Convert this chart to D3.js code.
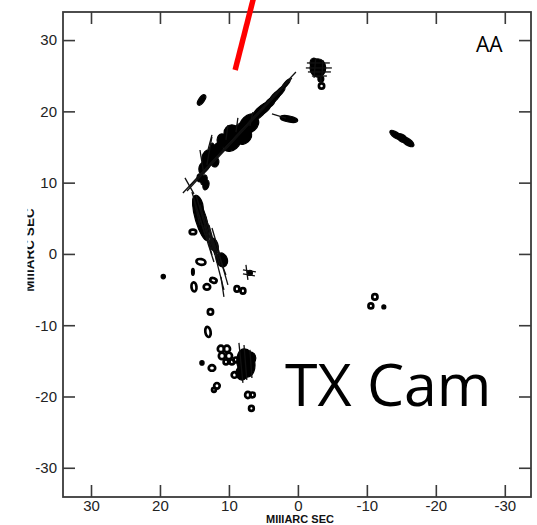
<!DOCTYPE html>
<html>
<head>
<meta charset="utf-8">
<script src="https://cdn.jsdelivr.net/npm/d3@7"></script>
<style>
  html, body { margin: 0; padding: 0; background: #fff; }
  svg { display: block; }
</style>
</head>
<body>
<svg id="chart" width="537" height="525"></svg>
<script>
// Tick values, milliarcseconds (RA offset increases to the left)
const xTicks = [30, 20, 10, 0, -10, -20, -30];
const yTicks = [30, 20, 10, 0, -10, -20, -30];

// Filled maser components: offset (mas), semi-major / semi-minor (mas), position angle (deg)
const blobX     = [8.41, 9.57, 5.51, 3.33, 1.74, 11.74, 13.33, 13.62, 12.61, 7.25, 10.43, 13.96,
                   -2.9, -2.32, -3.33, 1.3, -14.2, -15.94, -15.07,
                   14.06, 14.49, 13.77, 11.01, 12.17, 14.64,
                   7.54, 8.12, 6.96,
                   -12.46, 19.52, 13.91, 15.22, 6.96,
                   6.96, 9.57, 7.68, 4.78, 4.06, 2.61, 11.01, 13.04, 13.77, 12.03, 13.33, 14.2];
const blobY     = [16.97, 15.57, 19.92, 22.02, 23.84, 14.59, 12.48, 10.38, 14.59, 18.51, 15.99, 21.6,
                   26.09, 26.79, 24.54, 18.93, 16.69, 15.71, 16.27,
                   4.91, 6.87, 3.65, -0.84, 1.26, 7.29,
                   -15.29, -16.69, -14.59,
                   -7.43, -3.18, -15.29, -2.52, -2.66,
                   18.09, 16.97, 16.27, 20.48, 21.18, 22.72, 15.99, 13.46, 12.06, 12.9, 9.68, 10.66];
const blobMajor = [2.29, 1.43, 1.71, 1.29, 0.86, 1.14, 1.0, 0.71, 1.0, 1.43, 0.86, 0.86,
                   1.29, 0.7, 0.43, 1.29, 1.0, 1.0, 0.86,
                   3.14, 1.4, 0.86, 1.0, 1.0, 0.86,
                   2.0, 1.0, 0.86,
                   0.29, 0.31, 0.31, 0.49, 0.36,
                   1.43, 1.14, 1.14, 1.14, 1.0, 1.0, 0.86, 1.14, 0.86, 0.71, 0.71, 0.57];
const blobMinor = [1.14, 1.0, 0.6, 0.45, 0.26, 0.71, 0.57, 0.43, 0.26, 0.86, 0.86, 0.4,
                   1.14, 0.55, 0.43, 0.43, 0.42, 0.48, 0.5,
                   0.8, 0.7, 0.57, 0.78, 0.57, 0.5,
                   1.29, 0.86, 0.86,
                   0.29, 0.31, 0.31, 0.21, 0.36,
                   1.0, 1.14, 0.71, 0.55, 0.5, 0.38, 0.71, 0.86, 0.57, 0.57, 0.43, 0.43];
const blobPA    = [-50, -50, -45, -42, -42, -30, -25, -20, -15, -48, 0, -35,
                   0, 0, 0, 80, 57, 57, 57,
                   17, 15, 15, 20, 20, 20,
                   10, 0, 0,
                   0, 0, 0, 0, 0,
                   -50, 0, -50, -45, -45, -42, 0, -10, -15, -10, -15, 0];

// Contour rings: offset (mas), semi-axes (mas), position angle (deg)
const ringX     = [-3.43, -11.16, -10.58, 14.06, 15.07, 13.19, 12.25, 15.22, 8.84, 7.97, 12.68, 13.04, 11.16, 10.29, 11.01, 10.0, 10.43, 9.57, 8.99, 12.46, 9.2, 11.74, 12.17, 7.25, 6.59, 6.74];
const ringY     = [23.56, -6.03, -7.29, -1.12, -4.63, -4.63, -3.72, 3.09, -4.91, -5.19, -8.13, -10.94, -13.32, -13.32, -14.31, -14.31, -15.15, -15.15, -14.87, -15.99, -16.97, -18.51, -19.07, -19.78, -19.78, -21.67];
const ringMajor = [0.38, 0.38, 0.35, 0.66, 0.64, 0.47, 0.47, 0.47, 0.38, 0.38, 0.38, 0.72, 0.45, 0.45, 0.45, 0.45, 0.34, 0.34, 0.34, 0.47, 0.4, 0.4, 0.28, 0.44, 0.34, 0.34];
const ringMinor = [0.38, 0.38, 0.35, 0.4, 0.36, 0.38, 0.32, 0.32, 0.35, 0.35, 0.38, 0.38, 0.45, 0.45, 0.45, 0.45, 0.34, 0.34, 0.34, 0.4, 0.4, 0.4, 0.28, 0.4, 0.34, 0.34];
const ringPA    = [0, 0, 0, 80, 5, 90, 70, 90, 0, 0, 0, 10, 0, 0, 0, 0, 0, 0, 0, 90, 0, 0, 0, 0, 0, 0];

// Polarization vectors: centre (mas), length (mas), position angle (deg)
const vecX   = [8.48, 8.48, 8.84, 15.72, 9.13, 12.83, 14.42, 13.62, 13.12, 12.39, 11.74, 11.38, 10.87, 10.94, 12.17, 14.64,
                13.04, 12.46, 11.88, 13.26,
                12.75, 10.29, 8.84, 6.74, 13.91,
                -2.97, -3.04, -3.12, -3.12, -3.33, -2.46, -3.55, 2.75, 7.39, 7.03, 7.1, 8.26, 7.61, 6.81];
const vecY   = [17.04, 16.76, 16.62, 9.54, 16.34, 14.45, 5.68, 4.42, 3.37, 1.96, -1.19, -0.49, -1.89, -4.63, 1.47, 5.82,
                1.96, 1.96, 1.75, 2.17,
                15.64, 17.04, 18.09, 18.93, 12.83,
                26.79, 26.09, 25.53, 24.96, 24.4, 26.09, 26.0, 19.35, -2.59, -2.38, -2.95, -15.29, -15.22, -15.43];
const vecLen = [23.59, 21.97, 19.65, 2.6, 14.61, 3.99, 6.32, 8.06, 7.34, 7.34, 7.98, 5.26, 5.12, 2.84, 5.39, 3.61,
                4.37, 5.25, 3.96, 6.94,
                2.18, 2.1, 2.0, 2.0, 3.55,
                3.33, 3.77, 3.33, 2.17, 0.84, 2.8, 2.4, 2.1, 2.12, 1.9, 1.76, 5.64, 4.92, 3.94];
const vecPA  = [-44.0, -43.8, -43.9, 30.2, -43.9, -10.5, 17.4, 16.7, 17.2, 17.2, 14.7, 21, 16.4, 8.8, 15.6, 13.9,
                15.4, 16, 17, 18.2,
                -15.4, -8, -8, -12, 9.4,
                90, 90, 90, 90, 0, -5, -3, 74, 7.9, 81.5, 81, 5.9, 4.8, 4.2];

// Outflow direction marker (mas)
const jetX = [9.1, 6.33];
const jetY = [25.8, 36.3];

const svg = d3.select("#chart");
const frameL = 63, frameR = 531, frameT = 12, frameB = 497;

const x = d3.scaleLinear().domain([34.06, -33.8]).range([frameL, frameR]);
const y = d3.scaleLinear().domain([33.94, -34.1]).range([frameT, frameB]);

const tickColor = "#3a3a3a";
const labelFont = "'Liberation Sans', Arial, Helvetica, sans-serif";
const plain = d => String(d);

// Axes with inward ticks on all four sides
const gB = svg.append("g").attr("transform", `translate(0,${frameB})`)
  .call(d3.axisBottom(x).tickValues(xTicks).tickFormat(plain).tickSizeInner(-12).tickSizeOuter(0).tickPadding(3.5));
const gL = svg.append("g").attr("transform", `translate(${frameL},0)`)
  .call(d3.axisLeft(y).tickValues(yTicks).tickFormat(plain).tickSizeInner(-12).tickSizeOuter(0).tickPadding(6));
const gT = svg.append("g").attr("transform", `translate(0,${frameT})`)
  .call(d3.axisTop(x).tickValues(xTicks).tickSizeInner(-12).tickSizeOuter(0).tickFormat(""));
const gR = svg.append("g").attr("transform", `translate(${frameR},0)`)
  .call(d3.axisRight(y).tickValues(yTicks).tickSizeInner(-12).tickSizeOuter(0).tickFormat(""));

[gB, gL, gT, gR].forEach(g => {
  g.select(".domain").remove();
  g.selectAll(".tick line").attr("stroke", tickColor).attr("stroke-width", 1.6);
  g.selectAll(".tick text")
    .attr("fill", "#222")
    .style("font-family", labelFont)
    .style("font-size", "15px");
});

svg.append("rect")
  .attr("x", frameL).attr("y", frameT)
  .attr("width", frameR - frameL).attr("height", frameB - frameT)
  .attr("fill", "none").attr("stroke", tickColor).attr("stroke-width", 1.8);

// Axis titles
svg.append("text")
  .attr("x", 300).attr("y", 522.5)
  .attr("text-anchor", "middle")
  .style("font-family", labelFont).style("font-weight", "bold").style("font-size", "11px")
  .attr("fill", "#111")
  .text("MIIIARC SEC");

svg.append("clipPath").attr("id", "ytitle-clip")
  .append("rect").attr("x", 27.5).attr("y", 150).attr("width", 20).attr("height", 200);
svg.append("g").attr("clip-path", "url(#ytitle-clip)")
  .append("text")
  .attr("transform", "translate(34,250) rotate(-90)")
  .attr("text-anchor", "middle")
  .style("font-family", labelFont).style("font-weight", "bold").style("font-size", "13.5px")
  .attr("fill", "#111")
  .text("MIIIARC SEC");

// Convert an offset / position-angle description into pixel geometry
function ellipseGeom(X, Y, maj, mn, pa) {
  const r = pa * Math.PI / 180;
  const cx = x(X), cy = y(Y);
  const ux = x(X + Math.sin(r)) - cx, uy = y(Y + Math.cos(r)) - cy;
  const vx = x(X + Math.cos(r)) - cx, vy = y(Y - Math.sin(r)) - cy;
  return {
    cx, cy,
    rx: maj * Math.hypot(ux, uy),
    ry: mn * Math.hypot(vx, vy),
    ang: Math.atan2(uy, ux) * 180 / Math.PI
  };
}

const blobs = blobX.map((d, i) => ellipseGeom(blobX[i], blobY[i], blobMajor[i], blobMinor[i], blobPA[i]));
const rings = ringX.map((d, i) => ellipseGeom(ringX[i], ringY[i], ringMajor[i], ringMinor[i], ringPA[i]));
const vecs = vecX.map((d, i) => {
  const r = vecPA[i] * Math.PI / 180, h = vecLen[i] / 2;
  return {
    x1: x(vecX[i] - h * Math.sin(r)), y1: y(vecY[i] - h * Math.cos(r)),
    x2: x(vecX[i] + h * Math.sin(r)), y2: y(vecY[i] + h * Math.cos(r))
  };
});

const map = svg.append("g");

map.selectAll("ellipse.blob").data(blobs).join("ellipse")
  .attr("class", "blob")
  .attr("cx", d => d.cx).attr("cy", d => d.cy)
  .attr("rx", d => d.rx).attr("ry", d => d.ry)
  .attr("transform", d => `rotate(${d.ang},${d.cx},${d.cy})`)
  .attr("fill", "#000").attr("stroke", "#000").attr("stroke-width", 1.2);

map.selectAll("ellipse.ring").data(rings).join("ellipse")
  .attr("class", "ring")
  .attr("cx", d => d.cx).attr("cy", d => d.cy)
  .attr("rx", d => d.rx).attr("ry", d => d.ry)
  .attr("transform", d => `rotate(${d.ang},${d.cx},${d.cy})`)
  .attr("fill", "none").attr("stroke", "#000").attr("stroke-width", 2.7);

map.selectAll("line.vec").data(vecs).join("line")
  .attr("class", "vec")
  .attr("x1", d => d.x1).attr("y1", d => d.y1)
  .attr("x2", d => d.x2).attr("y2", d => d.y2)
  .attr("stroke", "#111").attr("stroke-width", 1.3);

// Red direction marker
svg.append("line")
  .attr("x1", x(jetX[0])).attr("y1", y(jetY[0]))
  .attr("x2", x(jetX[1])).attr("y2", y(jetY[1]))
  .attr("stroke", "#ff0000").attr("stroke-width", 5.5);

// Panel annotations
svg.append("text")
  .attr("x", 476).attr("y", 52)
  .style("font-family", "'Open Sans', 'DejaVu Sans', sans-serif").style("font-size", "21px")
  .attr("fill", "#000")
  .text("AA");

svg.append("text")
  .attr("x", 285).attr("y", 406)
  .style("font-family", "'Open Sans', 'DejaVu Sans', sans-serif").style("font-size", "59px")
  .attr("fill", "#000")
  .text("TX Cam");
</script>
</body>
</html>
